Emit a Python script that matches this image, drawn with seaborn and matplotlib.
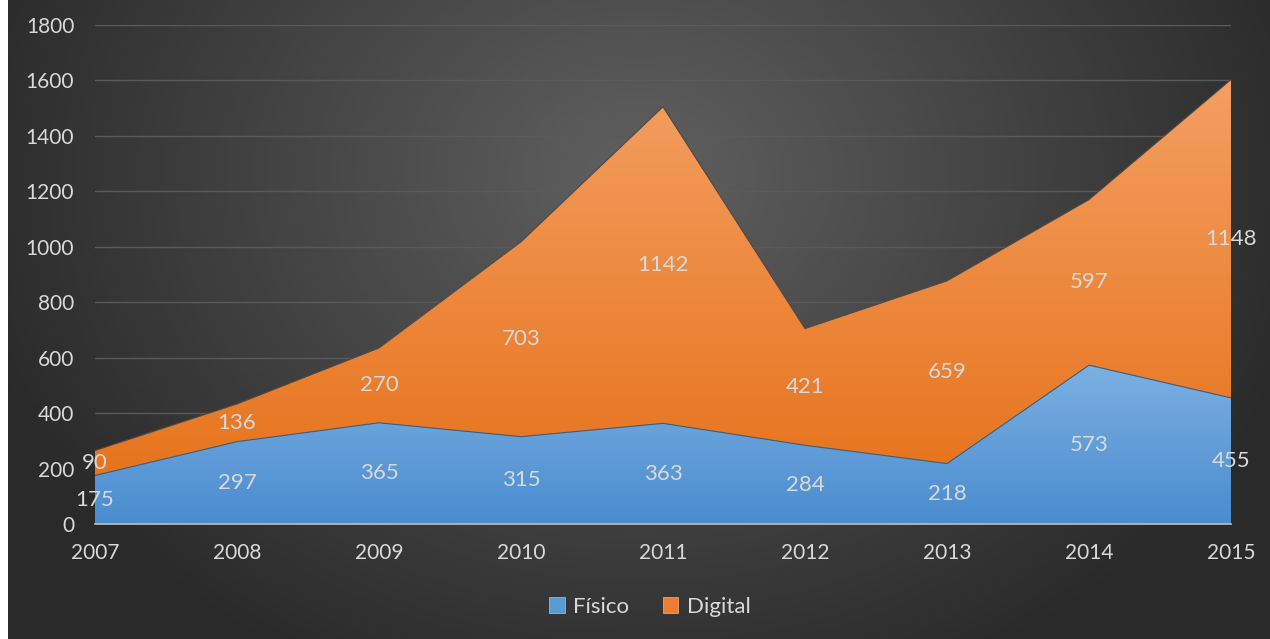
import numpy as np
import pandas as pd
import seaborn as sns
import matplotlib.pyplot as plt
from matplotlib.colors import LinearSegmentedColormap
from matplotlib.patches import Patch

# ---- Datos ----
anios = [2007, 2008, 2009, 2010, 2011, 2012, 2013, 2014, 2015]
fisico = [175, 297, 365, 315, 363, 284, 218, 573, 455]
digital = [90, 136, 270, 703, 1142, 421, 659, 597, 1148]

df = pd.DataFrame({'Año': anios, 'Físico': fisico, 'Digital': digital})
df['Total'] = df['Físico'] + df['Digital']

sns.set_style('dark')
plt.rcParams['font.family'] = ['Lato', 'DejaVu Sans']
color_texto = '#d9d9d9'

fig = plt.figure(figsize=(12.7, 6.39), dpi=100)
fig.patch.set_facecolor('white')

# ---- Fondo con degradado radial ----
bg = fig.add_axes([8 / 1270, 0, 1 - 8 / 1270, 1])
gx, gy = np.meshgrid(np.linspace(-1, 1, 400), np.linspace(-1, 1, 200))
r = np.sqrt(((gx - 0.0) / 1.0) ** 2 + ((gy - 0.45) / 1.6) ** 2)
r = np.clip(r / 1.1, 0, 1)
cmap_bg = LinearSegmentedColormap.from_list('bg', ['#606060', '#2a2a2a'])
bg.imshow(r, cmap=cmap_bg, extent=[0, 1, 0, 1], origin='lower', aspect='auto')
bg.axis('off')

# ---- Gráfico de áreas apiladas ----
ax = fig.add_axes([95 / 1270, 1 - 524 / 639, (1231 - 95) / 1270, (524 - 25) / 639])
ax.patch.set_alpha(0)
ax.set_xlim(2007, 2015)
ax.set_ylim(0, 1800)

cmap_azul = LinearSegmentedColormap.from_list('azul', ['#4a8ccf', '#7eb2e3'])
cmap_naranja = LinearSegmentedColormap.from_list('nar', ['#e56f15', '#f6a56c'])

area_f = ax.fill_between(df['Año'], 0, df['Físico'], facecolor='none',
                         edgecolor='none', zorder=2)
area_d = ax.fill_between(df['Año'], df['Físico'], df['Total'], facecolor='none',
                         edgecolor='none', zorder=2)

# degradados verticales recortados por cada área
grad = np.linspace(0, 1, 256).reshape(-1, 1)
im_f = ax.imshow(np.clip(grad * 1800 / 600, 0, 1), cmap=cmap_azul,
                 extent=[2007, 2015, 0, 1800], origin='lower', aspect='auto', zorder=2)
im_f.set_clip_path(area_f.get_paths()[0], transform=ax.transData)
im_d = ax.imshow(grad, cmap=cmap_naranja, vmin=0, vmax=1,
                 extent=[2007, 2015, 0, 1800], origin='lower', aspect='auto', zorder=2)
im_d.set_clip_path(area_d.get_paths()[0], transform=ax.transData)

# bordes finos
sns.lineplot(x=df['Año'], y=df['Físico'], color='#3d5f80', lw=0.8, ax=ax, zorder=3)
sns.lineplot(x=df['Año'], y=df['Total'], color='#4a4a4a', lw=0.8, ax=ax, zorder=3)

# ---- Etiquetas de datos ----
for i, a in enumerate(anios):
    ax.text(a, fisico[i] / 2, str(fisico[i]), ha='center', va='center',
            color=color_texto, fontsize=16, zorder=5)
    ax.text(a, fisico[i] + digital[i] / 2, str(digital[i]), ha='center', va='center',
            color=color_texto, fontsize=16, zorder=5)

# ---- Ejes ----
ax.set_yticks(range(0, 1801, 200))
ax.set_xticks(anios)
ax.grid(axis='y', color='#5a5a5a', lw=1, zorder=0)
ax.grid(axis='x', visible=False)
ax.set_axisbelow(True)
for s in ['top', 'right', 'left']:
    ax.spines[s].set_visible(False)
ax.spines['bottom'].set_visible(True)
ax.spines['bottom'].set_color('#bfbfbf')
ax.spines['bottom'].set_linewidth(1.2)
ax.spines['bottom'].set_zorder(4)
ax.tick_params(axis='x', colors='#bfbfbf', length=6, width=1.2, direction='out',
               labelcolor=color_texto, labelsize=15, pad=8)
ax.tick_params(axis='y', length=0, labelcolor=color_texto, labelsize=15, pad=15)
ax.set_xlabel('')
ax.set_ylabel('')

# ---- Leyenda ----
handles = [Patch(facecolor='#5b9bd5', edgecolor='#8fb8e0', lw=0.6, label='Físico'),
           Patch(facecolor='#ed7d31', edgecolor='#f0a070', lw=0.6, label='Digital')]
leg = fig.legend(handles=handles, loc='center', bbox_to_anchor=(650 / 1270, 1 - 607 / 639),
                 ncol=2, frameon=False, fontsize=16, handlelength=0.7, handleheight=0.7,
                 handletextpad=0.4, columnspacing=1.5)
for t in leg.get_texts():
    t.set_color(color_texto)

fig.savefig('out.png', dpi=100, facecolor=fig.get_facecolor())
